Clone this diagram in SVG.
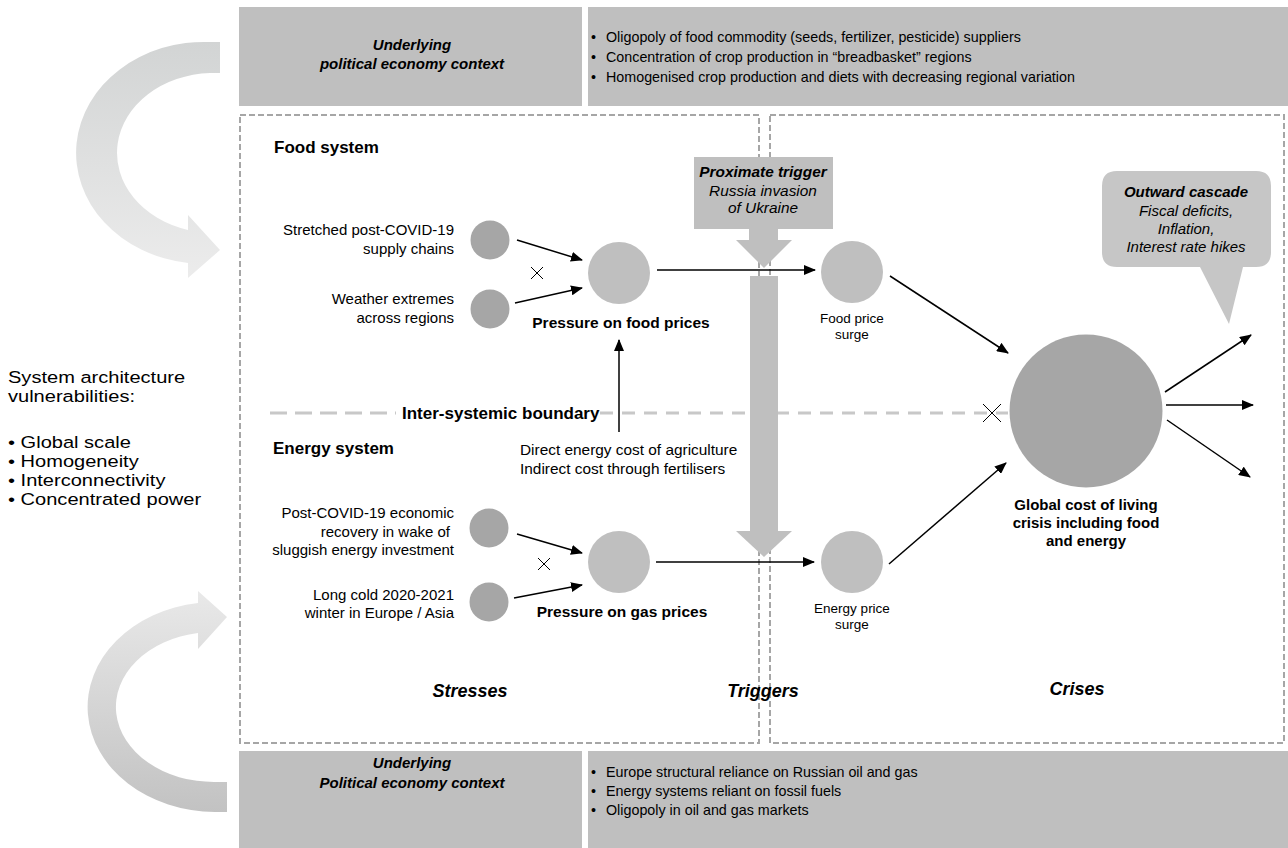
<svg xmlns="http://www.w3.org/2000/svg" width="1288" height="848" viewBox="0 0 1288 848">
  <defs>
    <linearGradient id="gTop" x1="0" y1="0" x2="0" y2="1">
      <stop offset="0" stop-color="#d2d4d4"/>
      <stop offset="1" stop-color="#ececec"/>
    </linearGradient>
    <linearGradient id="gBot" x1="0" y1="0" x2="0" y2="1">
      <stop offset="0" stop-color="#e9e9e9"/>
      <stop offset="1" stop-color="#c2c2c2"/>
    </linearGradient>
    <marker id="ah" viewBox="0 0 12 10" refX="11" refY="5" markerWidth="12" markerHeight="10" markerUnits="userSpaceOnUse" orient="auto">
      <path d="M0,0 L12,5 L0,10 Z" fill="#000"/>
    </marker>
    <style>
      text { font-family: "Liberation Sans", Arial, sans-serif; fill: #000; }
      .box { fill: #bfbfbf; }
      .frame { fill: none; stroke: #a6a6a6; stroke-width: 2; stroke-dasharray: 6 3; }
      .sm { fill: #a6a6a6; }
      .md { fill: #bfbfbf; }
      .lbl { font-size: 15px; }
      .bul { font-size: 14.3px; }
      .bl { font-size: 15.5px; font-weight: bold; }
      .ttl { font-size: 17px; font-weight: bold; }
      .bi { font-size: 15px; font-weight: bold; font-style: italic; }
      .it { font-size: 15.4px; font-style: italic; }
      .sec { font-size: 18px; font-weight: bold; font-style: italic; }
      .small { font-size: 13.5px; }
      .side { font-size: 17px; }
      .edge { stroke: #000; stroke-width: 1.5; fill: none; marker-end: url(#ah); }
      .cross { stroke: #000; stroke-width: 1; }
    </style>
  </defs>

  <rect width="1288" height="848" fill="#fff"/>

  <!-- feedback arrows on the left -->
  <g id="loop-top">
    <path d="M220,42 L210,42 A128,111 0 0 0 188,263 L188,278 L220,250 L188,215 L188,230 A97,80 0 0 1 210,73 L220,73 Z" fill="url(#gTop)"/>
  </g>
  <g id="loop-bottom">
    <path d="M227,812 L215,812 A128,105 0 0 1 198,603 L198,591 L227,617 L198,649 L198,633 A98,75 0 0 0 215,782 L227,782 Z" fill="url(#gBot)"/>
  </g>

  <!-- side note, slightly widened type -->
  <g id="vulnerabilities" transform="translate(8,0) scale(1.18,1)">
    <text class="side" x="0" y="383">System architecture</text>
    <text class="side" x="0" y="402">vulnerabilities:</text>
    <text class="side" x="0" y="448">• Global scale</text>
    <text class="side" x="0" y="467">• Homogeneity</text>
    <text class="side" x="0" y="486">• Interconnectivity</text>
    <text class="side" x="0" y="505">• Concentrated power</text>
  </g>

  <!-- political economy context boxes -->
  <g id="context-food">
    <rect class="box" x="239" y="7" width="343" height="99"/>
    <text class="bi" x="412" y="50" text-anchor="middle">Underlying</text>
    <text class="bi" x="412" y="69" text-anchor="middle">political economy context</text>
  </g>
  <g id="context-food-items">
    <rect class="box" x="588" y="7" width="700" height="99"/>
    <text class="bul" x="591" y="42">•</text>
    <text class="bul" x="606" y="42">Oligopoly of food commodity (seeds, fertilizer, pesticide) suppliers</text>
    <text class="bul" x="591" y="62">•</text>
    <text class="bul" x="606" y="62">Concentration of crop production in “breadbasket” regions</text>
    <text class="bul" x="591" y="82">•</text>
    <text class="bul" x="606" y="82">Homogenised crop production and diets with decreasing regional variation</text>
  </g>
  <g id="context-energy">
    <rect class="box" x="239" y="751" width="343" height="97"/>
    <text class="bi" x="412" y="768" text-anchor="middle">Underlying</text>
    <text class="bi" x="412" y="788" text-anchor="middle">Political economy context</text>
  </g>
  <g id="context-energy-items">
    <rect class="box" x="588" y="751" width="700" height="97"/>
    <text class="bul" x="591" y="777">•</text>
    <text class="bul" x="606" y="777">Europe structural reliance on Russian oil and gas</text>
    <text class="bul" x="591" y="796">•</text>
    <text class="bul" x="606" y="796">Energy systems reliant on fossil fuels</text>
    <text class="bul" x="591" y="815">•</text>
    <text class="bul" x="606" y="815">Oligopoly in oil and gas markets</text>
  </g>

  <!-- dashed frames -->
  <g id="frames">
    <rect class="frame" x="240" y="115" width="519" height="628"/>
    <rect class="frame" x="770" y="115" width="514" height="628"/>
  </g>

  <!-- inter-systemic boundary -->
  <g id="boundary">
    <line x1="270" y1="413" x2="396" y2="413" stroke="#c8c8c8" stroke-width="3" stroke-dasharray="17 8"/>
    <line x1="600" y1="413" x2="1008" y2="413" stroke="#c8c8c8" stroke-width="3" stroke-dasharray="13 9"/>
    <text class="ttl" x="402" y="419">Inter-systemic boundary</text>
    <path class="cross" d="M983,404 L1001,422 M1001,404 L983,422" stroke-width="1.2"/>
  </g>

  <g id="titles">
    <text class="ttl" x="274" y="153">Food system</text>
    <text class="ttl" x="273" y="454">Energy system</text>
    <text class="sec" x="470" y="697" text-anchor="middle">Stresses</text>
    <text class="sec" x="763" y="697" text-anchor="middle">Triggers</text>
    <text class="sec" x="1077" y="695" text-anchor="middle">Crises</text>
  </g>

  <!-- trigger -->
  <g id="trigger">
    <rect class="md" x="694" y="157" width="139" height="72"/>
    <rect class="md" x="749" y="228" width="29" height="13"/>
    <path class="md" d="M736,240 L792,240 L764,268 Z"/>
    <text class="bi" x="763" y="177" text-anchor="middle" style="font-size:15.4px">Proximate trigger</text>
    <text class="it" x="763" y="196" text-anchor="middle">Russia invasion</text>
    <text class="it" x="763" y="213" text-anchor="middle">of Ukraine</text>
  </g>
  <g id="trigger-bar">
    <rect class="md" x="750" y="276" width="28" height="256"/>
    <path class="md" d="M736,531 L792,531 L764,557 Z"/>
  </g>

  <!-- food system nodes -->
  <g id="n-supply">
    <circle class="sm" cx="490" cy="240" r="19.5"/>
    <text class="lbl" x="454" y="235" text-anchor="end">Stretched post-COVID-19</text>
    <text class="lbl" x="454" y="254" text-anchor="end">supply chains</text>
  </g>
  <g id="n-weather">
    <circle class="sm" cx="490" cy="309" r="19.5"/>
    <text class="lbl" x="454" y="304" text-anchor="end">Weather extremes</text>
    <text class="lbl" x="454" y="323" text-anchor="end">across regions</text>
  </g>
  <g id="n-food-pressure">
    <circle class="md" cx="619" cy="273" r="31"/>
    <text class="bl" x="621" y="328" text-anchor="middle">Pressure on food prices</text>
  </g>
  <g id="n-food-surge">
    <circle class="md" cx="852" cy="272" r="31"/>
    <text class="small" x="852" y="323" text-anchor="middle">Food price</text>
    <text class="small" x="852" y="339" text-anchor="middle">surge</text>
  </g>

  <!-- energy system nodes -->
  <g id="n-recovery">
    <circle class="sm" cx="489" cy="528" r="19.5"/>
    <text class="lbl" x="454" y="518" text-anchor="end">Post-COVID-19 economic</text>
    <text class="lbl" x="450" y="537" text-anchor="end">recovery in wake of</text>
    <text class="lbl" x="454" y="555" text-anchor="end">sluggish energy investment</text>
  </g>
  <g id="n-winter">
    <circle class="sm" cx="489" cy="602" r="19.5"/>
    <text class="lbl" x="454" y="600" text-anchor="end">Long cold 2020-2021</text>
    <text class="lbl" x="454" y="618" text-anchor="end">winter in Europe / Asia</text>
  </g>
  <g id="n-gas-pressure">
    <circle class="md" cx="619" cy="562" r="31"/>
    <text class="bl" x="622" y="617" text-anchor="middle">Pressure on gas prices</text>
  </g>
  <g id="n-energy-surge">
    <circle class="md" cx="852" cy="562" r="31"/>
    <text class="small" x="852" y="613" text-anchor="middle">Energy price</text>
    <text class="small" x="852" y="629" text-anchor="middle">surge</text>
  </g>

  <g id="n-energy-cost">
    <text class="lbl" x="520" y="455" style="font-size:15.4px">Direct energy cost of agriculture</text>
    <text class="lbl" x="520" y="474" style="font-size:15.4px">Indirect cost through fertilisers</text>
  </g>

  <!-- crisis -->
  <g id="n-crisis">
    <circle class="sm" cx="1086" cy="411" r="76.5"/>
    <text class="bl" x="1086" y="510" text-anchor="middle" style="font-size:15px">Global cost of living</text>
    <text class="bl" x="1086" y="528" text-anchor="middle" style="font-size:15px">crisis including food</text>
    <text class="bl" x="1086" y="546" text-anchor="middle" style="font-size:15px">and energy</text>
  </g>

  <g id="n-cascade">
    <path d="M1117,171 L1256,171 Q1271,171 1271,186 L1271,252 Q1271,267 1256,267 L1243,267 L1229,324 L1200,267 L1117,267 Q1102,267 1102,252 L1102,186 Q1102,171 1117,171 Z" fill="#c6c6c6"/>
    <text class="bi" x="1186" y="197" text-anchor="middle">Outward cascade</text>
    <text class="it" x="1186" y="216" text-anchor="middle" style="font-size:15px">Fiscal deficits,</text>
    <text class="it" x="1186" y="234" text-anchor="middle" style="font-size:15px">Inflation,</text>
    <text class="it" x="1186" y="252" text-anchor="middle" style="font-size:15px">Interest rate hikes</text>
  </g>

  <!-- connectors -->
  <g id="connectors">
    <line class="edge" x1="517" y1="240" x2="582" y2="260"/>
    <line class="edge" x1="515" y1="303" x2="582" y2="288"/>
    <line class="edge" x1="657" y1="270" x2="815" y2="270"/>
    <line class="edge" x1="517" y1="534" x2="582" y2="553"/>
    <line class="edge" x1="514" y1="598" x2="582" y2="585"/>
    <line class="edge" x1="656" y1="562" x2="814" y2="562"/>
    <line class="edge" x1="619" y1="432" x2="619" y2="340"/>
    <line class="edge" x1="890" y1="276" x2="1008" y2="353"/>
    <line class="edge" x1="889" y1="564" x2="1006" y2="463"/>
    <line class="edge" x1="1165" y1="392" x2="1251" y2="335"/>
    <line class="edge" x1="1166" y1="405" x2="1253" y2="405"/>
    <line class="edge" x1="1167" y1="420" x2="1250" y2="477"/>
    <path class="cross" d="M531,267 L543,279 M543,267 L531,279"/>
    <path class="cross" d="M538,558 L550,570 M550,558 L538,570"/>
  </g>
</svg>
